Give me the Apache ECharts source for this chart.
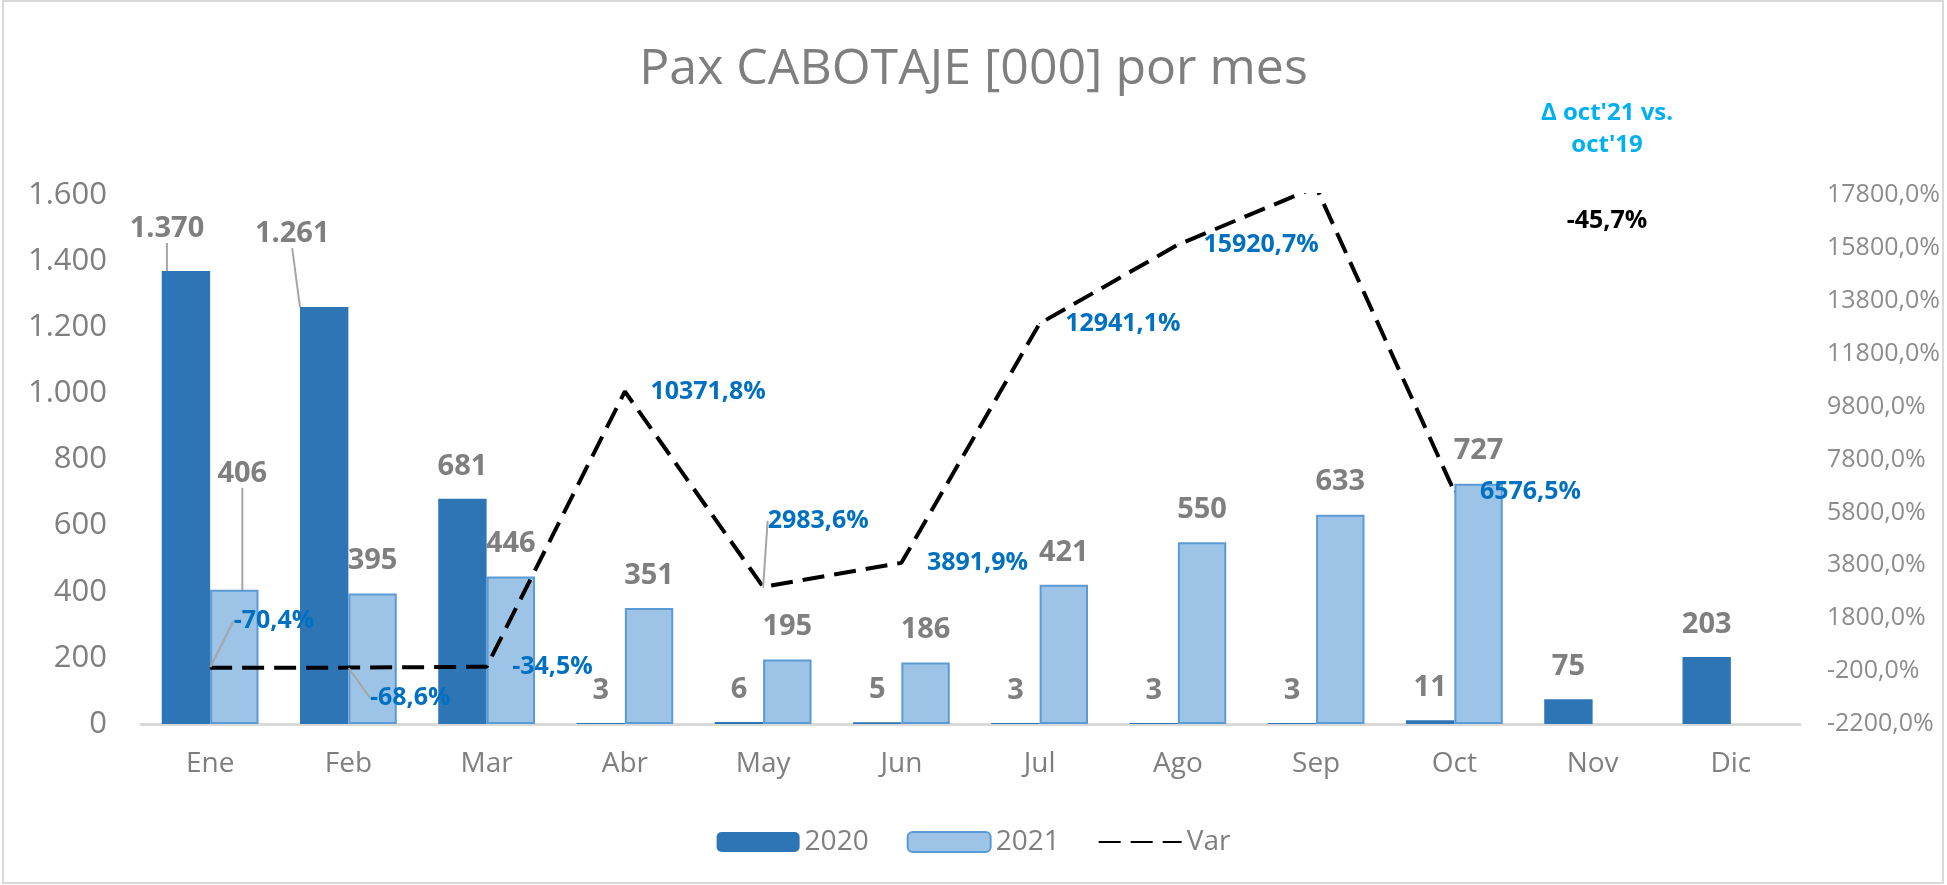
<!DOCTYPE html>
<html>
<head>
<meta charset="utf-8">
<title>Pax CABOTAJE</title>
<script src="https://cdn.jsdelivr.net/npm/echarts@6/dist/echarts.min.js"></script>
<style>
  html, body { margin: 0; padding: 0; background: #fff; }
  #chart { width: 1947px; height: 885px; }
</style>
</head>
<body>
<div id="chart"></div>
<script>
// datos
const meses = ['Ene', 'Feb', 'Mar', 'Abr', 'May', 'Jun', 'Jul', 'Ago', 'Sep', 'Oct', 'Nov', 'Dic']
const pax2020 = [1370, 1261, 681, 3, 6, 5, 3, 3, 3, 11, 75, 203]
const pax2021 = [406, 395, 446, 351, 195, 186, 421, 550, 633, 727, null, null]
const variacion = [-70.4, -68.6, -34.5, 10371.8, 2983.6, 3891.9, 12941.1, 15920.7, 18100, 6576.5, null, null]
const deltaTitulo = "Δ oct'21 vs.\noct'19"
const deltaValor = '-45,7%'

// desplazamientos manuales de etiquetas (como en la planilla)
const mover2020 = { 0: [-19, -10], 1: [-32, -41] }
const mover2021 = { 0: [8, -84] }
const moverVar = { 0: [-2, -47], 1: [-4, 30], 4: [-21, -66] }
const ocultarVar = [8] // Sep queda fuera del eje

const gris = '#7f7f7f'
const fuente = 'Open Sans'
const guia = { show: true, lineStyle: { color: '#a6a6a6', width: 2 } }

const miles = (v) => String(v).replace(/\B(?=(\d{3})+(?!\d))/g, '.')
const pct = (v) => v.toFixed(1).replace('.', ',') + '%'

// arma los items con guia solo donde la etiqueta fue movida
const conGuia = (valores, movidos) => valores.map((v, i) => {
  if (movidos[i]) return { value: v, labelLine: guia }
  return v
})

const chart = echarts.init(document.getElementById('chart'))

const barLabel = {
  show: true,
  position: 'top',
  distance: 18,
  color: gris,
  fontFamily: fuente,
  fontWeight: 'bold',
  fontSize: 29,
  formatter: (p) => miles(p.value)
}

const varData = variacion.map((v, i) => {
  const item = { value: v }
  if (moverVar[i]) item.labelLine = guia
  if (ocultarVar.includes(i)) item.label = { show: false }
  return item
})

const option = {
  backgroundColor: '#fff',
  textStyle: { fontFamily: fuente },
  title: {
    text: 'Pax CABOTAJE [000] por mes',
    left: 'center',
    top: 40,
    textStyle: { color: gris, fontSize: 50, fontWeight: 'normal', fontFamily: fuente }
  },
  legend: {
    top: 823,
    left: 'center',
    itemWidth: 83,
    itemHeight: 20,
    itemGap: 38,
    textStyle: { color: gris, fontSize: 28, fontFamily: fuente },
    data: ['2020', '2021', { name: 'Var', itemStyle: { opacity: 0 } }]
  },
  grid: { left: 141, right: 147, top: 195, bottom: 161 },
  xAxis: {
    type: 'category',
    data: meses,
    axisTick: { show: false },
    axisLine: { lineStyle: { color: '#d9d9d9', width: 3 } },
    axisLabel: { color: gris, fontSize: 28, margin: 26, fontFamily: fuente }
  },
  yAxis: [
    {
      type: 'value',
      min: 0,
      max: 1600,
      interval: 200,
      splitLine: { show: false },
      axisLine: { show: false },
      axisLabel: { color: gris, fontSize: 31, margin: 34, fontFamily: fuente, formatter: miles }
    },
    {
      type: 'value',
      min: -2200,
      max: 17800,
      interval: 2000,
      splitLine: { show: false },
      axisLine: { show: false },
      axisLabel: { color: '#8c8c8c', fontSize: 25, margin: 27, fontFamily: fuente, formatter: pct }
    }
  ],
  series: [
    {
      name: '2020',
      type: 'bar',
      data: conGuia(pax2020, mover2020),
      barGap: '0%',
      barCategoryGap: '30%',
      itemStyle: { color: '#2e75b6' },
      label: barLabel,
      labelLine: { show: false },
      labelLayout: (p) => {
        const m = mover2020[p.dataIndex]
        return m ? { dx: m[0], dy: m[1] } : {}
      }
    },
    {
      name: '2021',
      type: 'bar',
      data: conGuia(pax2021, mover2021),
      itemStyle: { color: '#9dc3e6', borderColor: '#5b9bd5', borderWidth: 2 },
      label: barLabel,
      labelLine: { show: false },
      labelLayout: (p) => {
        const m = mover2021[p.dataIndex]
        return m ? { dx: m[0], dy: m[1] } : {}
      }
    },
    {
      name: 'Var',
      type: 'line',
      yAxisIndex: 1,
      data: varData,
      symbol: 'circle',
      symbolSize: 1,
      showSymbol: true,
      clip: true,
      z: 5,
      lineStyle: { color: '#000', width: 4, type: [22, 10] },
      itemStyle: { color: '#000' },
      label: {
        show: true,
        position: 'right',
        distance: 25,
        color: '#0070c0',
        fontFamily: fuente,
        fontWeight: 'bold',
        fontSize: 25,
        formatter: (p) => pct(p.value)
      },
      labelLine: { show: false },
      labelLayout: (p) => {
        const m = moverVar[p.dataIndex]
        return m ? { dx: m[0], dy: m[1] } : {}
      }
    }
  ],
  graphic: [
    {
      type: 'rect',
      shape: { x: 3, y: 1, width: 1940, height: 882 },
      style: { fill: 'none', stroke: '#d9d9d9', lineWidth: 2 },
      silent: true
    },
    {
      type: 'text',
      x: 1607,
      y: 97,
      style: {
        text: deltaTitulo,
        fill: '#00b0f0',
        font: 'bold 24px "Open Sans"',
        align: 'center',
        lineHeight: 32
      }
    },
    {
      type: 'text',
      x: 1607,
      y: 208,
      style: {
        text: deltaValor,
        fill: '#000',
        font: 'bold 25px "Open Sans"',
        align: 'center'
      }
    }
  ]
}

chart.setOption(option)
</script>
</body>
</html>
